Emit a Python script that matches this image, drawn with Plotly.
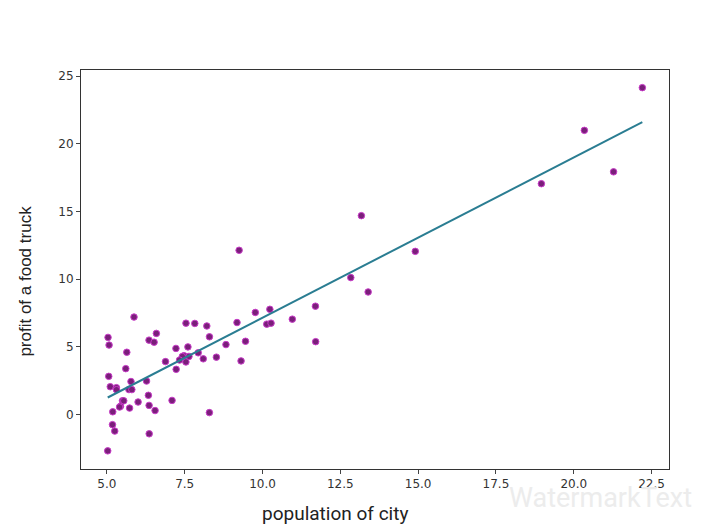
import plotly.graph_objects as go
import numpy as np

# population of city (10,000s) and profit of a food truck (10,000$)
population = [22.203, 20.341, 21.279, 18.959, 13.176, 9.2482, 14.908, 12.836, 13.394, 11.7,
              11.708, 10.957, 10.236, 10.136, 10.274, 9.7687, 9.1802, 9.4536, 9.3102, 8.8254,
              8.2934, 8.5172, 8.2111, 8.2951, 8.0959, 7.8247, 7.5402, 7.9334, 7.6031, 7.4764,
              7.4239, 7.6366, 7.5386, 7.3345, 7.2182, 7.2259, 6.8825, 7.0931, 6.5894, 6.3534,
              6.5159, 6.2742, 6.3328, 6.3557, 6.5479, 6.3589, 5.8707, 5.0365, 5.0702, 5.6397,
              5.6063, 5.0594, 5.7737, 5.1077, 5.3054, 5.7077, 5.8014, 6.002, 5.4994, 5.4369,
              5.4069, 5.7292, 5.1884, 5.1793, 5.2524, 5.0269, 5.5416, 5.3077]
profit = [24.147, 20.992, 17.929, 17.054, 14.692, 12.134, 12.054, 10.117, 9.0551, 8.0043,
          5.3854, 7.0467, 7.7754, 6.6799, 6.7526, 7.5435, 6.7981, 5.4141, 3.9624, 5.1694,
          0.14454, 4.2415, 6.5426, 5.7442, 4.1164, 6.7318, 6.7504, 4.5623, 4.9981, 4.3483,
          4.2885, 4.2959, 3.8845, 4.0259, 4.8852, 3.3411, 3.9115, 1.0463, 5.9966, 5.4974,
          5.3436, 2.4756, 1.4233, 0.67861, 0.29678, -1.4211, 7.2029, 5.7014, 5.1337, 4.6042,
          3.3928, 2.8214, 2.4406, 2.0576, 1.9869, 1.8451, 1.844, 0.92695, 1.0173, 0.61705,
          0.55657, 0.47953, 0.20421, -0.74279, -1.22, -2.6807, 1.0179, 1.8396]

# fitted line parameters
theta0 = -4.69
theta1 = 1.184

x_ticks = [5.0, 7.5, 10.0, 12.5, 15.0, 17.5, 20.0, 22.5]
x_tick_text = ["5.0", "7.5", "10.0", "12.5", "15.0", "17.5", "20.0", "22.5"]
y_ticks = [0, 5, 10, 15, 20, 25]
y_tick_text = ["0", "5", "10", "15", "20", "25"]

xs = np.array(population)
line_x = [xs.min(), xs.max()]
line_y = [theta0 + theta1 * v for v in line_x]

fig = go.Figure()
fig.add_trace(go.Scatter(
    x=population, y=profit, mode="markers",
    marker=dict(size=6.5, color="#7a1f7a", line=dict(color="#c83cc8", width=1)),
    showlegend=False,
))
fig.add_trace(go.Scatter(
    x=line_x, y=line_y, mode="lines",
    line=dict(color="#2a7d92", width=2),
    showlegend=False,
))

axis_common = dict(
    showgrid=False, zeroline=False, showline=True, linecolor="#333333", linewidth=1,
    mirror=True, ticks="outside", ticklen=4, tickcolor="#444444",
    tickfont=dict(family="DejaVu Sans", size=12, color="#333333"),
)
fig.update_xaxes(range=[4.168, 23.06], tickvals=x_ticks, ticktext=x_tick_text, **axis_common)
fig.update_yaxes(range=[-4.02, 25.45], tickvals=y_ticks, ticktext=y_tick_text, **axis_common)

fig.update_layout(
    width=697, height=519,
    margin=dict(l=73, r=36, t=62, b=58),
    plot_bgcolor="white", paper_bgcolor="white",
    annotations=[
        dict(text="WatermarkText", xref="paper", yref="paper", x=0.724, y=-0.072,
             xanchor="left", yanchor="middle", showarrow=False,
             font=dict(family="Roboto", size=27, color="#ececec")),
        dict(text="population of city", xref="paper", yref="paper", x=0.432, y=-0.112,
             xanchor="center", yanchor="middle", showarrow=False,
             font=dict(family="Roboto", size=19, color="#222222")),
        dict(text="profit of a food truck", xref="paper", yref="paper", x=-0.095, y=0.47,
             xanchor="center", yanchor="middle", showarrow=False, textangle=-90,
             font=dict(family="Liberation Sans", size=17, color="#222222")),
    ],
)

fig.write_html("out.html")
